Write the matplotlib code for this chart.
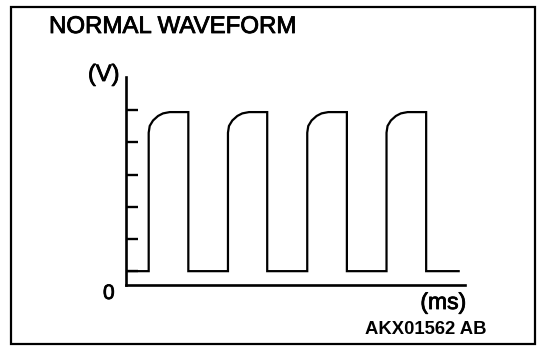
import matplotlib
matplotlib.use('Agg')
import matplotlib.pyplot as plt
import matplotlib.patheffects as pe
from matplotlib.patches import Rectangle

plt.rcParams['font.family'] = ['Liberation Sans', 'DejaVu Sans']

# Waveform data (time in ms-like units, level in V-like units)
rise_ms = [2.9, 12.9, 22.9, 32.9]
fall_ms = [7.9, 17.85, 27.9, 37.9]
end_ms = 42.0
low_v = 0.43
high_v = 5.37
# rounded corner after each rising edge
corner_dx = [0.0, 0.13, 0.55, 1.18, 1.81, 2.65]
corner_v = [4.73, 4.94, 5.11, 5.25, 5.33, 5.37]
tick_v = [0.43, 1.43, 2.43, 3.43, 4.43, 5.43]

# build the trace
xs = [0.0]
ys = [low_v]
for r, f in zip(rise_ms, fall_ms):
    xs.append(r)
    ys.append(low_v)
    for dx, v in zip(corner_dx, corner_v):
        xs.append(r + dx)
        ys.append(v)
    xs += [f, f]
    ys += [high_v, low_v]
xs.append(end_ms)
ys.append(low_v)

W, H = 560, 360
fig = plt.figure(figsize=(W / 100, H / 100), dpi=100)

# axes placed in pixel terms
x0, x1 = 125.7, 465.0
y0, y1 = 285.0, 77.0
ax = fig.add_axes([x0 / W, 1 - y0 / H, (x1 - x0) / W, (y0 - y1) / H])
ax.set_xlim(0, 42.8)
ax.set_ylim(0, 6.46)
ax.plot(xs, ys, color='black', lw=1.6, solid_joinstyle='miter')

for s in ['top', 'right']:
    ax.spines[s].set_visible(False)
for s in ['left', 'bottom']:
    ax.spines[s].set_linewidth(1.9)
ax.set_xticks([])
ax.set_yticks(tick_v)
ax.tick_params(axis='y', direction='in', length=8.6, width=1.7, labelleft=False)
ax.patch.set_visible(False)

# slightly heavier text, like the scanned original
heavy = [pe.withStroke(linewidth=0.6, foreground='black')]

fig.text(49 / W, 1 - 33 / H, 'NORMAL WAVEFORM', fontsize=17.3, va='baseline',
         ha='left', path_effects=heavy)
fig.text(88 / W, 1 - 81 / H, '(V)', fontsize=17, va='baseline', ha='left',
         path_effects=heavy)
fig.text(103 / W, 1 - 299 / H, '0', fontsize=15, va='baseline', ha='left',
         path_effects=heavy)
fig.text(466 / W, 1 - 309 / H, '(ms)', fontsize=16.5, va='baseline', ha='right',
         path_effects=heavy)
fig.text(365 / W, 1 - 334 / H, 'AKX01562 AB', fontsize=13.3, fontweight='bold',
         va='baseline', ha='left')

# outer frame
fig.patches.append(Rectangle((11 / W, 1 - 344 / H), (535 - 11) / W, (344 - 7) / H,
                             transform=fig.transFigure, fill=False, lw=1.6,
                             edgecolor='black'))

fig.savefig('out.png', dpi=100)
